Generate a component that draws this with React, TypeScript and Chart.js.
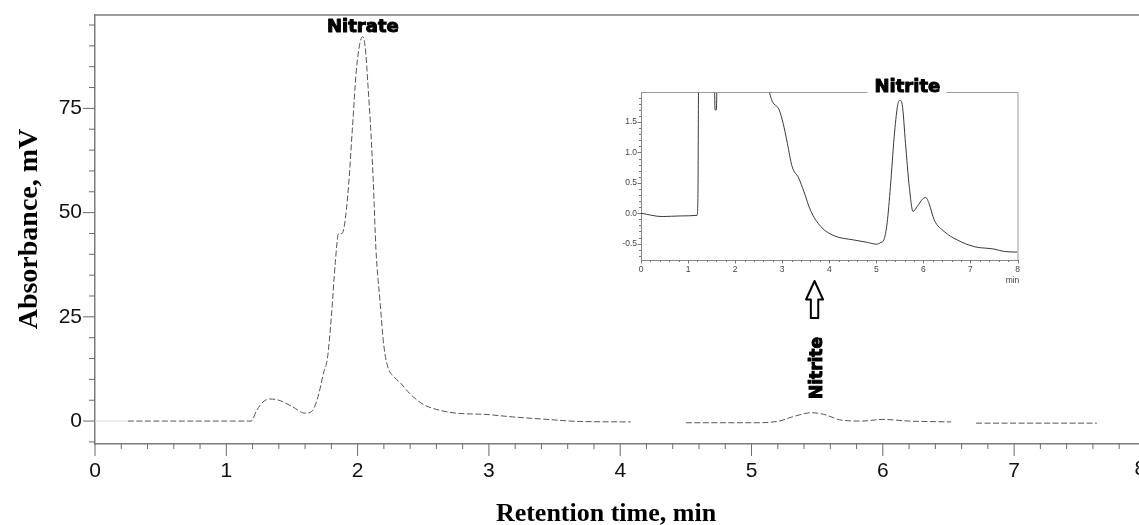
import React, { useEffect, useRef } from 'react';
import { Chart, registerables } from 'chart.js';

Chart.register(...registerables);

// ---------- main chromatogram ----------
const mainTime = [
  0.25, 0.6, 1.0, 1.19, 1.23, 1.28, 1.33, 1.4, 1.5, 1.6, 1.65, 1.7, 1.74, 1.77, 1.8, 1.83,
  1.855, 1.88, 1.9, 1.93, 1.96, 1.99, 2.02, 2.04, 2.06, 2.08, 2.1, 2.12, 2.14, 2.17, 2.2,
  2.23, 2.28, 2.33, 2.4, 2.5, 2.6, 2.75, 2.97, 3.18, 3.4, 3.7, 4.08, 4.3, 4.5, 5.06, 5.21,
  5.31, 5.46, 5.55, 5.69, 5.84, 6.0, 6.2, 6.52, 6.6, 6.71, 7.63,
];
const mainSignal: (number | null)[] = [
  0, 0, 0, 0, 2.5, 4.6, 5.3, 5.0, 3.5, 1.9, 2.3, 6, 11.5, 15, 25, 38,
  45, 45, 47, 56, 70, 84, 91, 92.2, 89, 80, 70, 57, 41, 29, 18,
  13, 10.5, 9, 6.5, 4, 2.8, 1.9, 1.6, 1.0, 0.5, -0.1, -0.2, null, -0.4, -0.4, 0,
  1.0, 2.0, 1.6, 0.2, 0, 0.4, 0.0, -0.2, null, -0.5, -0.5,
];
const leadTime = [0.0, 0.25];
const leadSignal = [0, 0];

const mainXTickLabels = [0, 1, 2, 3, 4, 5, 6, 7, 8];
const mainYTickLabels = [0, 25, 50, 75];

// ---------- inset chromatogram ----------
const insetTime = [
  0, 0.45, 0.84, 1.19, 1.21, 1.225, 1.4, 1.55, 1.575, 1.6, 1.625, 2.0, 2.6, 2.73, 2.79, 2.93,
  3.02, 3.11, 3.21, 3.35, 3.46, 3.6, 3.82, 4.1, 4.52, 4.81, 5.0, 5.1, 5.16, 5.23, 5.3, 5.38,
  5.45, 5.5, 5.55, 5.62, 5.7, 5.78, 5.87, 5.98, 6.05, 6.12, 6.23, 6.44, 6.72, 7.08, 7.5, 7.72, 8.0,
];
const insetSignal = [
  0, -0.055, -0.045, -0.035, 0.3, 2.3, 3.0, 2.5, 1.7, 1.7, 2.5, 4, 2.5, 1.99, 1.84, 1.71,
  1.48, 1.15, 0.77, 0.58, 0.36, 0.05, -0.22, -0.37, -0.44, -0.48, -0.51, -0.48, -0.44, -0.16, 0.44, 1.26,
  1.76, 1.86, 1.79, 1.15, 0.44, 0.03, 0.11, 0.23, 0.26, 0.16, -0.11, -0.3, -0.44, -0.55, -0.59, -0.63, -0.64,
];
const insetYTickLabels = [-0.5, 0.0, 0.5, 1.0, 1.5];

const nitrateLabel = 'Nitrate';
const nitriteLabel = 'Nitrite';
const xTitle = 'Retention time, min';
const yTitle = 'Absorbance, mV';

const AXIS = '#7d7d7d';
const SANS = "'Liberation Sans', Arial, sans-serif";
const SERIF = "'Liberation Serif', 'Times New Roman', serif";
const LABEL_FONT = "'DejaVu Sans', sans-serif";

const near = (v: number, step: number) => Math.abs(v / step - Math.round(v / step)) < 1e-6;

const heavyText = (ctx: any, text: string, x: number, y: number) => {
  ctx.lineWidth = 1;
  ctx.strokeStyle = '#000';
  ctx.lineJoin = 'round';
  ctx.strokeText(text, x, y);
  ctx.fillText(text, x, y);
};

const mainDecor = {
  id: 'mainDecor',
  afterDraw(chart: any) {
    const { ctx, chartArea, scales } = chart;
    const xs = scales.x;
    const ys = scales.y;
    ctx.save();
    // top frame line
    ctx.strokeStyle = AXIS;
    ctx.lineWidth = 1.5;
    ctx.beginPath();
    ctx.moveTo(chartArea.left, chartArea.top);
    ctx.lineTo(chartArea.right, chartArea.top);
    ctx.stroke();
    // ticks
    ctx.lineWidth = 1;
    ctx.strokeStyle = '#6a6a6a';
    xs.ticks.forEach((t: any) => {
      const px = xs.getPixelForValue(t.value);
      const major = near(t.value, 1);
      ctx.beginPath();
      ctx.moveTo(px, chartArea.bottom);
      ctx.lineTo(px, chartArea.bottom + (major ? 12 : 5));
      ctx.stroke();
    });
    ys.ticks.forEach((t: any) => {
      const py = ys.getPixelForValue(t.value);
      const major = mainYTickLabels.some((m) => Math.abs(m - t.value) < 1e-6);
      ctx.beginPath();
      ctx.moveTo(chartArea.left, py);
      ctx.lineTo(chartArea.left - (major ? 12 : 6), py);
      ctx.stroke();
    });
    // last x label (partly outside the canvas)
    const last = mainXTickLabels[mainXTickLabels.length - 1];
    ctx.fillStyle = '#111';
    ctx.font = `21px ${SANS}`;
    ctx.textAlign = 'center';
    ctx.textBaseline = 'top';
    ctx.fillText(String(last), xs.getPixelForValue(last) - 5, chartArea.bottom + 15);

    // axis titles
    ctx.fillStyle = '#000';
    ctx.font = `bold 26px ${SERIF}`;
    ctx.textAlign = 'center';
    ctx.textBaseline = 'alphabetic';
    ctx.fillText(xTitle, 606, 521);
    ctx.save();
    ctx.translate(37, 229);
    ctx.rotate(-Math.PI / 2);
    ctx.font = `bold 28px ${SERIF}`;
    ctx.fillText(yTitle, 0, 0);
    ctx.restore();

    // peak labels
    ctx.font = `bold 18px ${LABEL_FONT}`;
    heavyText(ctx, nitrateLabel, xs.getPixelForValue(2.04), 32);
    const nx = xs.getPixelForValue(5.48);
    ctx.save();
    ctx.translate(nx + 7, 368);
    ctx.rotate(-Math.PI / 2);
    ctx.font = `bold 17px ${LABEL_FONT}`;
    heavyText(ctx, nitriteLabel, 0, 0);
    ctx.restore();

    // hollow arrow
    ctx.beginPath();
    ctx.moveTo(nx, 281);
    ctx.lineTo(nx + 8.5, 299.5);
    ctx.lineTo(nx + 3.7, 299.5);
    ctx.lineTo(nx + 3.7, 318);
    ctx.lineTo(nx - 3.7, 318);
    ctx.lineTo(nx - 3.7, 299.5);
    ctx.lineTo(nx - 8.5, 299.5);
    ctx.closePath();
    ctx.fillStyle = '#fff';
    ctx.fill();
    ctx.lineWidth = 2;
    ctx.strokeStyle = '#000';
    ctx.stroke();
    ctx.restore();
  },
};

const insetDecor = {
  id: 'insetDecor',
  afterDraw(chart: any) {
    const { ctx, chartArea, scales } = chart;
    const xs = scales.x;
    const ys = scales.y;
    ctx.save();
    ctx.strokeStyle = '#9a9a9a';
    ctx.lineWidth = 1;
    ctx.beginPath();
    ctx.moveTo(chartArea.left, chartArea.top + 0.5);
    ctx.lineTo(chartArea.right, chartArea.top + 0.5);
    ctx.moveTo(chartArea.right + 0.5, chartArea.top);
    ctx.lineTo(chartArea.right + 0.5, chartArea.bottom);
    ctx.stroke();
    ctx.strokeStyle = '#777';
    xs.ticks.forEach((t: any) => {
      const px = Math.round(xs.getPixelForValue(t.value)) + 0.5;
      const major = near(t.value, 1);
      ctx.beginPath();
      ctx.moveTo(px, chartArea.bottom);
      ctx.lineTo(px, chartArea.bottom + (major ? 3.5 : 2));
      ctx.stroke();
    });
    ys.ticks.forEach((t: any) => {
      const py = Math.round(ys.getPixelForValue(t.value)) + 0.5;
      const major = near(t.value, 0.5);
      ctx.beginPath();
      ctx.moveTo(chartArea.left, py);
      ctx.lineTo(chartArea.left - (major ? 3.5 : 2), py);
      ctx.stroke();
    });
    ctx.fillStyle = '#444';
    ctx.font = `8.5px ${SANS}`;
    ctx.textAlign = 'center';
    ctx.textBaseline = 'top';
    ctx.fillText('min', xs.getPixelForValue(8) - 5, chartArea.bottom + 16);
    // label with white box interrupting frame
    const cx = xs.getPixelForValue(5.66);
    ctx.fillStyle = '#fff';
    ctx.fillRect(cx - 40, 12, 79, 23);
    ctx.fillStyle = '#000';
    ctx.font = `bold 18px ${LABEL_FONT}`;
    ctx.textBaseline = 'alphabetic';
    heavyText(ctx, nitriteLabel, cx, 32);
    ctx.restore();
  },
};

export default function App() {
  const mainRef = useRef<HTMLCanvasElement>(null);
  const insetRef = useRef<HTMLCanvasElement>(null);

  useEffect(() => {
    const mainData = mainTime.map((t, i) => ({ x: t, y: mainSignal[i] }));
    const leadData = leadTime.map((t, i) => ({ x: t, y: leadSignal[i] }));
    const main = new Chart(mainRef.current as HTMLCanvasElement, {
      type: 'line',
      data: {
        datasets: [
          {
            data: leadData as any,
            borderColor: '#dddddd',
            borderWidth: 1,
            pointRadius: 0,
          },
          {
            data: mainData as any,
            borderColor: '#555',
            borderWidth: 1,
            borderDash: [6, 2.5],
            pointRadius: 0,
            cubicInterpolationMode: 'monotone',
            spanGaps: false,
          },
        ],
      },
      options: {
        animation: false,
        responsive: false,
        layout: { padding: { top: 15, left: 0, right: 0, bottom: 0 } },
        plugins: { legend: { display: false }, tooltip: { enabled: false } },
        scales: {
          x: {
            type: 'linear',
            min: 0,
            max: 7.951,
            afterFit: (s: any) => {
              s.height = 81;
            },
            border: { display: true, color: AXIS, width: 1.5 },
            grid: { display: false, drawTicks: true, tickLength: 12 },
            ticks: {
              stepSize: 0.2,
              includeBounds: false,
              autoSkip: false,
              maxRotation: 0,
              padding: 3,
              color: '#111',
              font: { family: SANS, size: 21 },
              callback: (v: any) => (near(Number(v), 1) ? String(Math.round(Number(v))) : ''),
            },
          },
          y: {
            type: 'linear',
            min: -5.5,
            max: 97.4,
            afterFit: (s: any) => {
              s.width = 95;
            },
            border: { display: true, color: AXIS, width: 1.5 },
            grid: { display: false, drawTicks: true, tickLength: 12 },
            ticks: {
              stepSize: 5,
              includeBounds: false,
              autoSkip: false,
              padding: 1,
              color: '#111',
              font: { family: SANS, size: 21 },
              callback: (v: any) =>
                mainYTickLabels.some((m) => Math.abs(m - Number(v)) < 1e-6) ? String(Math.round(Number(v))) : '',
            },
          },
        },
      },
      plugins: [mainDecor],
    });

    const insetData = insetTime.map((t, i) => ({ x: t, y: insetSignal[i] }));
    const inset = new Chart(insetRef.current as HTMLCanvasElement, {
      type: 'line',
      data: {
        datasets: [
          {
            data: insetData as any,
            borderColor: '#3a3a3a',
            borderWidth: 1,
            pointRadius: 0,
            cubicInterpolationMode: 'monotone',
          },
        ],
      },
      options: {
        animation: false,
        responsive: false,
        layout: { padding: { top: 32, left: 0, right: 12.5, bottom: 0 } },
        plugins: { legend: { display: false }, tooltip: { enabled: false } },
        scales: {
          x: {
            type: 'linear',
            min: 0,
            max: 8,
            afterFit: (s: any) => {
              s.height = 30;
            },
            border: { display: true, color: '#8a8a8a', width: 1 },
            grid: { display: false, drawTicks: true, tickLength: 3 },
            ticks: {
              stepSize: 0.2,
              autoSkip: false,
              maxRotation: 0,
              padding: 2,
              color: '#444',
              font: { family: SANS, size: 8.5 },
              callback: (v: any) => (near(Number(v), 1) ? String(Math.round(Number(v))) : ''),
            },
          },
          y: {
            type: 'linear',
            min: -0.77,
            max: 1.995,
            afterFit: (s: any) => {
              s.width = 41;
            },
            border: { display: true, color: '#8a8a8a', width: 1 },
            grid: { display: false, drawTicks: true, tickLength: 3 },
            ticks: {
              stepSize: 0.1,
              includeBounds: false,
              autoSkip: false,
              padding: 1,
              color: '#444',
              font: { family: SANS, size: 8.5 },
              callback: (v: any) =>
                insetYTickLabels.some((m) => Math.abs(m - Number(v)) < 1e-6) ? Number(v).toFixed(1) : '',
            },
          },
        },
      },
      plugins: [insetDecor],
    });

    return () => {
      main.destroy();
      inset.destroy();
    };
  }, []);

  return (
    <div style={{ position: 'fixed', left: 0, top: 0, width: 1139, height: 525, background: '#fff' }}>
      <canvas ref={mainRef} width={1139} height={525} style={{ position: 'absolute', left: 0, top: 0 }} />
      <canvas ref={insetRef} width={430} height={230} style={{ position: 'absolute', left: 600, top: 60 }} />
    </div>
  );
}
